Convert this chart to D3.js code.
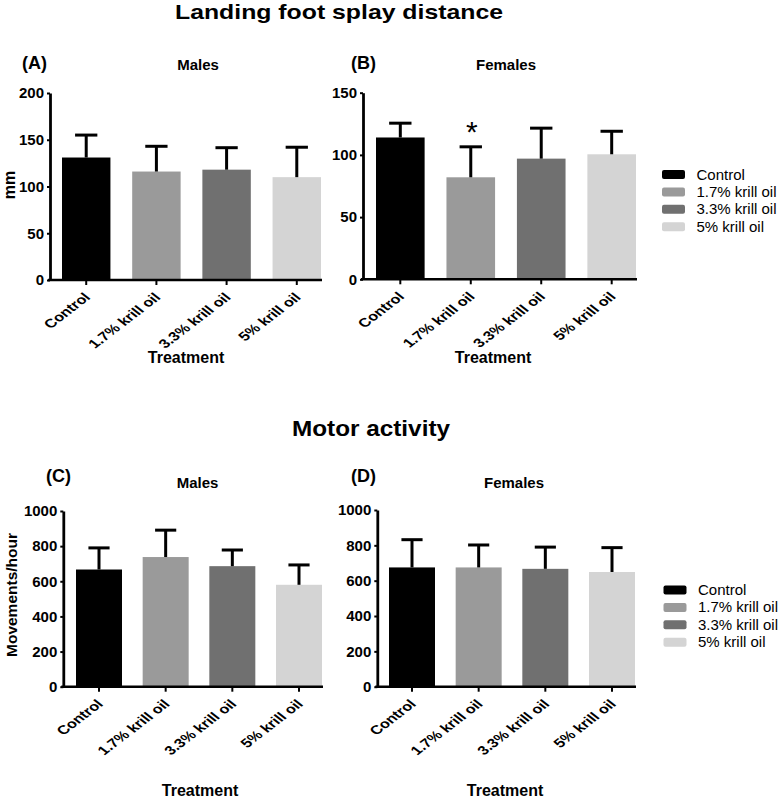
<!DOCTYPE html>
<html>
<head>
<meta charset="utf-8">
<script src="https://cdn.jsdelivr.net/npm/d3@7"></script>
<style>
  html, body { margin: 0; padding: 0; background: #fff; }
  svg { display: block; font-family: "Liberation Sans", Arial, Helvetica, sans-serif; }
</style>
</head>
<body>
<svg id="chart" width="784" height="799"></svg>
<script>
// ---------- data ----------
const categories = ["Control", "1.7% krill oil", "3.3% krill oil", "5% krill oil"];
const splayMalesMean   = [131, 116, 118, 110];
const splayMalesErr    = [24, 27, 23.5, 32];
const splayFemalesMean = [114, 82, 97, 100.5];
const splayFemalesErr  = [11.5, 24.5, 24.5, 18.5];
const motorMalesMean   = [667, 738, 686, 580];
const motorMalesErr    = [123, 153, 92, 113];
const motorFemalesMean = [675, 675, 667, 649];
const motorFemalesErr  = [157, 127, 123, 138];
const splayMalesTicks   = [0, 50, 100, 150, 200];
const splayFemalesTicks = [0, 50, 100, 150];
const motorTicks        = [0, 200, 400, 600, 800, 1000];
const significance = ["", "*", "", ""]; // females splay
const barColors = ["#000000", "#9a9a9a", "#6f6f6f", "#d4d4d4"];

// ---------- layout ----------
const svg = d3.select("#chart");
const panels = [
  { label: "(A)", sub: "Males", mean: splayMalesMean, err: splayMalesErr, ticks: splayMalesTicks,
    axisX: 50, yTop: 93, yBot: 280, bandL: 62, bandR: 321, axisEnd: 322,
    labX: 22, labY: 69, subX: 198, subY: 70, yTitle: "mm", yTitleX: 15, yTitleY: 185, treatX: 186, treatY: 363, sig: null },
  { label: "(B)", sub: "Females", mean: splayFemalesMean, err: splayFemalesErr, ticks: splayFemalesTicks,
    axisX: 363, yTop: 92.7, yBot: 279.3, bandL: 376, bandR: 636, axisEnd: 637,
    labX: 351, labY: 69, subX: 506, subY: 70, yTitle: null, treatX: 493, treatY: 363, sig: significance },
  { label: "(C)", sub: "Males", mean: motorMalesMean, err: motorMalesErr, ticks: motorTicks,
    axisX: 63.3, yTop: 511, yBot: 686.7, bandL: 76, bandR: 322, axisEnd: 323,
    labX: 46, labY: 482, subX: 197.5, subY: 488, yTitle: "Movements/hour", yTitleX: 17, yTitleY: 595, treatX: 200, treatY: 796, sig: null },
  { label: "(D)", sub: "Females", mean: motorFemalesMean, err: motorFemalesErr, ticks: motorTicks,
    axisX: 377.3, yTop: 510, yBot: 686.7, bandL: 389, bandR: 635, axisEnd: 636,
    labX: 351, labY: 482, subX: 514, subY: 488, yTitle: null, treatX: 505, treatY: 796, sig: null }
];

// titles
svg.append("text").attr("x", 339).attr("y", 19).attr("text-anchor", "middle")
  .attr("font-size", 21).attr("font-weight", "bold")
  .attr("textLength", 328).attr("lengthAdjust", "spacingAndGlyphs")
  .text("Landing foot splay distance");
svg.append("text").attr("x", 371).attr("y", 436).attr("text-anchor", "middle")
  .attr("font-size", 22).attr("font-weight", "bold")
  .attr("textLength", 158).attr("lengthAdjust", "spacingAndGlyphs")
  .text("Motor activity");

const blur = svg.append("defs").append("filter").attr("id", "soft")
  .attr("x", "-10%").attr("y", "-10%").attr("width", "120%").attr("height", "120%");
blur.append("feGaussianBlur").attr("stdDeviation", 0.6);

panels.forEach(p => {
  const g = svg.append("g");
  const maxV = p.ticks[p.ticks.length - 1];
  const y = d3.scaleLinear().domain([0, maxV]).range([p.yBot, p.yTop]);
  const x = d3.scaleBand().domain(categories).range([p.bandL, p.bandR]).paddingInner(0.31).paddingOuter(0);
  const data = categories.map((c, i) => ({ c, i, m: p.mean[i], e: p.err[i] }));

  // bars
  g.append("g").attr("filter", "url(#soft)").selectAll("rect").data(data).join("rect")
    .attr("x", d => x(d.c)).attr("width", x.bandwidth())
    .attr("y", d => y(d.m)).attr("height", d => y(0) - y(d.m))
    .attr("fill", d => barColors[d.i]);

  // error bars
  const capW = x.bandwidth() * 0.46;
  const eb = g.append("g").attr("stroke", "#000").attr("stroke-width", 3);
  eb.selectAll("line.stem").data(data).join("line").attr("class", "stem")
    .attr("x1", d => x(d.c) + x.bandwidth() / 2).attr("x2", d => x(d.c) + x.bandwidth() / 2)
    .attr("y1", d => y(d.m)).attr("y2", d => y(d.m + d.e));
  eb.selectAll("line.cap").data(data).join("line").attr("class", "cap")
    .attr("x1", d => x(d.c) + x.bandwidth() / 2 - capW / 2).attr("x2", d => x(d.c) + x.bandwidth() / 2 + capW / 2)
    .attr("y1", d => y(d.m + d.e)).attr("y2", d => y(d.m + d.e));

  if (p.sig) {
    g.selectAll("text.sig").data(data.filter(d => p.sig[d.i])).join("text").attr("class", "sig")
      .attr("x", d => x(d.c) + x.bandwidth() / 2 + 1)
      .attr("y", d => y(d.m + d.e) - 5)
      .attr("text-anchor", "middle").attr("font-size", 30)
      .text(d => p.sig[d.i]);
  }

  // y axis
  const ya = g.append("g").attr("transform", `translate(${p.axisX},0)`)
    .call(d3.axisLeft(y).tickValues(p.ticks).tickFormat(d3.format("d")).tickSize(3).tickSizeOuter(0).tickPadding(3));
  ya.select(".domain").attr("stroke-width", 2.8);
  ya.selectAll(".tick line").attr("stroke-width", 2);
  ya.selectAll(".tick text").attr("font-size", 15).attr("font-weight", "bold")
    .attr("font-family", "Liberation Sans, Arial, sans-serif").attr("fill", "#000");

  // x axis
  g.append("line").attr("x1", p.axisX - 2).attr("x2", p.axisEnd)
    .attr("y1", y(0)).attr("y2", y(0)).attr("stroke", "#000").attr("stroke-width", 2.6);
  const xa = g.append("g").attr("transform", `translate(0,${y(0)})`)
    .call(d3.axisBottom(x).tickSize(5).tickSizeOuter(0));
  xa.select(".domain").remove();
  xa.selectAll(".tick line").attr("stroke-width", 2);
  xa.selectAll(".tick text")
    .attr("font-size", 12.5).attr("font-weight", "bold").attr("fill", "#000")
    .attr("font-family", "Liberation Sans, Arial, sans-serif")
    .attr("text-anchor", "end").attr("x", 0).attr("y", 0).attr("dy", 0)
    .attr("transform", "translate(5,18) scale(1.3,1) rotate(-45)");

  // labels
  g.append("text").attr("x", p.labX).attr("y", p.labY).attr("font-size", 18).attr("font-weight", "bold").text(p.label);
  g.append("text").attr("x", p.subX).attr("y", p.subY).attr("text-anchor", "middle")
    .attr("font-size", 15).attr("font-weight", "bold").text(p.sub);
  g.append("text").attr("x", p.treatX).attr("y", p.treatY).attr("text-anchor", "middle")
    .attr("font-size", 16).attr("font-weight", "bold").text("Treatment");
  if (p.yTitle) {
    g.append("text").attr("transform", `translate(${p.yTitleX},${p.yTitleY}) rotate(-90)`)
      .attr("text-anchor", "middle").attr("font-size", p.yTitle === "mm" ? 16 : 15.5).attr("font-weight", "bold")
      .text(p.yTitle);
  }
});

// legends
const legends = [{ x: 662, y: 179.5 }, { x: 663.5, y: 595 }];
legends.forEach(L => {
  const lg = svg.append("g").attr("transform", `translate(${L.x},${L.y})`);
  const rows = lg.selectAll("g").data(categories).join("g")
    .attr("transform", (d, i) => `translate(0,${i * 17.4})`);
  rows.append("rect").attr("x", 0).attr("y", -9.5).attr("width", 23).attr("height", 9)
    .attr("rx", 2).attr("fill", (d, i) => barColors[i]).attr("filter", "url(#soft)");
  rows.append("text").attr("x", 34.5).attr("y", 0).attr("font-size", 15).text(d => d);
});
</script>
</body>
</html>
